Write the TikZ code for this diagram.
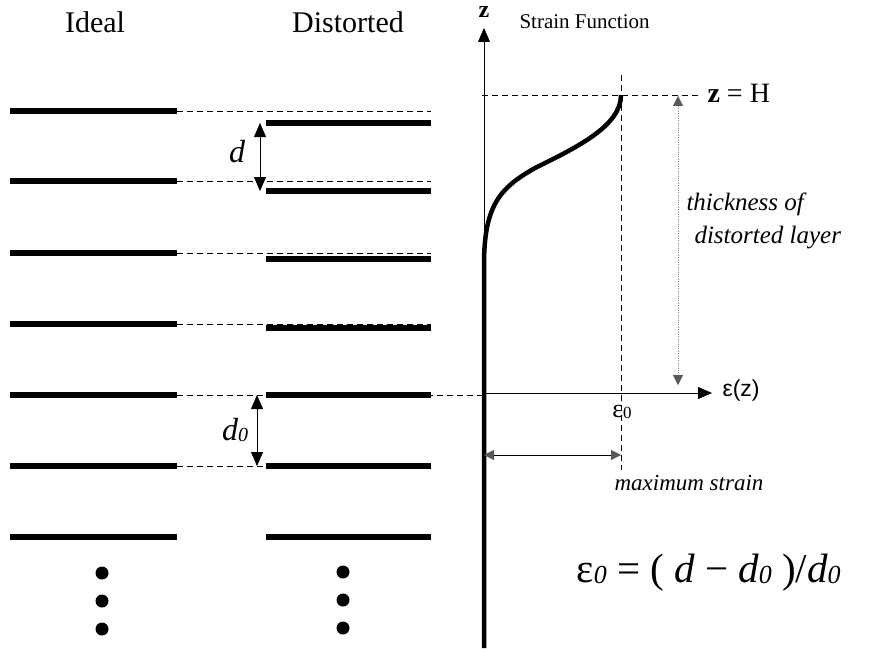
\documentclass[tikz,border=0pt]{standalone}
\usepackage{fontspec}
\setmainfont{Liberation Serif}
\setsansfont{Liberation Sans}
\usetikzlibrary{arrows.meta}
\newcommand{\fs}[1]{\fontsize{#1}{#1}\selectfont}
\newcommand{\zro}[1]{\raisebox{-0.1ex}{\fs{#1}\itshape 0}}

\begin{document}
\begin{tikzpicture}[x=1pt,y=-1pt,>={Triangle[length=14pt,width=12pt]}]
\tikzstyle{layer}=[line width=5.5pt]
\tikzstyle{guide}=[thin,dash pattern=on 6pt off 4pt]
\tikzstyle{gtip}=[{Triangle[length=10pt,width=10pt,color=gray!70!black]}-{Triangle[length=10pt,width=10pt,color=gray!70!black]}]
\tikzstyle{dot}=[circle,fill,inner sep=0pt,minimum size=13pt]
\useasboundingbox (0,0) rectangle (882,650);
% titles
\node[anchor=base,font=\fs{30}] (tideal) at (95,33) {Ideal};
\node[anchor=base,font=\fs{30}] (tdist) at (348,33) {Distorted};
\node[anchor=base west,font=\fs{21}] (tstrain) at (516,29) {Strain Function};
% ideal layers and guides
\draw[layer] (10,111) -- (177,111); \draw[guide] (177,111) -- (431,111);
\draw[layer] (10,181) -- (177,181); \draw[guide] (177,181) -- (431,181);
\draw[layer] (10,253) -- (177,253); \draw[guide] (177,253) -- (431,253);
\draw[layer] (10,324) -- (177,324); \draw[guide] (177,324) -- (431,324);
\draw[layer] (10,395) -- (177,395); \draw[guide] (177,395) -- (484,395);
\draw[layer] (10,466) -- (177,466); \draw[guide] (177,466) -- (266,466);
\draw[layer] (10,537) -- (177,537);
% distorted layers
\draw[layer] (266,123) -- (431,123);
\draw[layer] (266,191) -- (431,191);
\draw[layer] (266,259) -- (431,259);
\draw[layer] (266,328) -- (431,328);
\draw[layer] (266,395) -- (431,395);
\draw[layer] (266,466) -- (431,466);
\draw[layer] (266,537) -- (431,537);
% spacings
\coordinate (dtop) at (260,123); \coordinate (dbot) at (260,191);
\draw[<->,thin] (dtop) -- (dbot);
\node[font=\fs{32}\itshape] (dlab) at (237,152) {d};
\coordinate (d0top) at (257,395); \coordinate (d0bot) at (257,466);
\draw[<->,thin] (d0top) -- (d0bot);
\node[font=\fs{32}\itshape] (d0lab) at (235,430) {d\zro{20}};
% more layers
\node[dot] (l1) at (102,573) {}; \node[dot] (l2) at (102,601) {}; \node[dot] (l3) at (102,629) {};
\node[dot] (r1) at (343,572) {}; \node[dot] (r2) at (343,600) {}; \node[dot] (r3) at (343,628) {};
% strain axes
\coordinate (zbot) at (484,648); \coordinate (ztop) at (484,28);
\coordinate (orig) at (484,393); \coordinate (eend) at (712,393);
\draw[->,thin] (zbot) -- (ztop);
\draw[->,thin] (orig) -- (eend);
\node[font=\fs{24}\bfseries] (zlab) at (484,12) {z};
\node[anchor=west,font=\sffamily\fs{23}] (elab) at (719,391) {ε(z)};
% strain profile
\coordinate (ztopH) at (621,95);
\draw[line width=4.5pt] (zbot) -- (484,265) .. controls (484,205) and (500,188) .. (535,168)
  .. controls (580,146) and (621,125) .. (ztopH);
\draw[guide] (621,75) -- (621,470);
\draw[guide] (482,95) -- (700,95);
\node[anchor=west,font=\fs{28}] (hlab) at (704,93) {{\bfseries z} = H};
\node[font=\fs{26}] (e0lab) at (622,412) {ε\raisebox{-0.1ex}{\fs{17}0}};
% thickness and maximum strain
\coordinate (tt) at (678,96); \coordinate (tb) at (678,385);
\draw[gtip,gray,dotted] (tt) -- (tb);
\node[anchor=base west,font=\fs{25}\itshape] (thk1) at (683,210) {thickness of};
\node[anchor=base west,font=\fs{25}\itshape] (thk2) at (691,243) {distorted layer};
\coordinate (ml) at (484,455); \coordinate (mr) at (621,455);
\draw[gtip,thin] (ml) -- (mr);
\node[anchor=base west,font=\fs{23}\itshape] (mlab) at (611,490) {maximum strain};
% definition
\node[anchor=base west,font=\fs{41}] (form) at (573,582)
  {ε\zro{26} = ( {\itshape d} − {\itshape d}\zro{26} )/{\itshape d}\zro{26}};
\end{tikzpicture}
\end{document}
